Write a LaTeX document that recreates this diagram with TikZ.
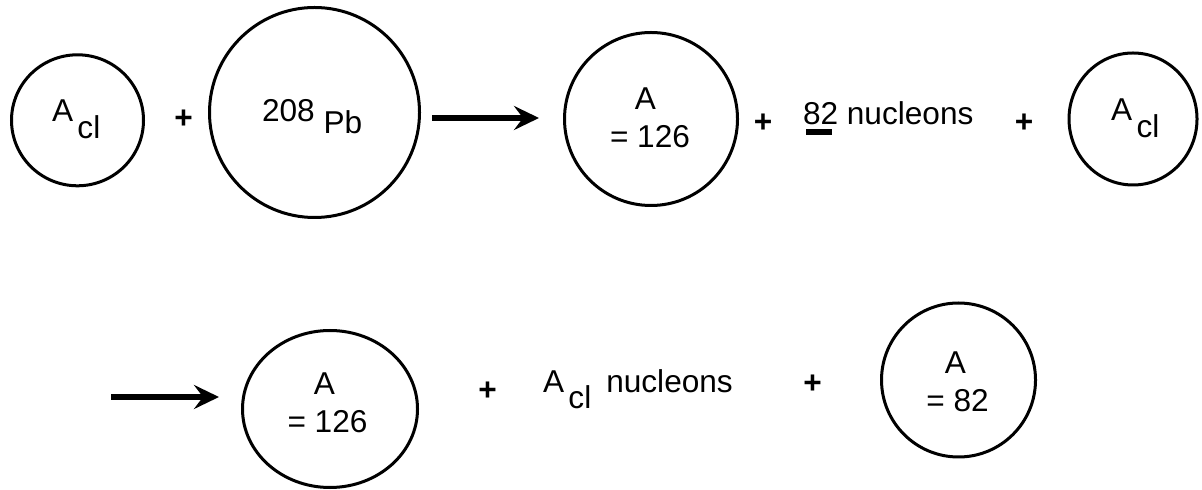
\documentclass[tikz,border=0pt]{standalone}
\usepackage{fontspec}
\setmainfont{Liberation Sans}
\usetikzlibrary{shapes.geometric,arrows.meta}
\begin{document}
\begin{tikzpicture}[x=0.5pt,y=0.5pt,
  every node/.style={font=\fontsize{15.8pt}{19pt}\selectfont, inner sep=0pt, outer sep=0pt},
  nucleus/.style={draw, line width=1.5pt, ellipse, inner sep=0pt},
  txt/.style={anchor=base},
  txtw/.style={anchor=base west},
  plus/.style={anchor=center, font=\fontsize{15.8pt}{19pt}\selectfont\bfseries},
  bigarrow/.style={line width=3.3pt, -{Stealth[length=12.5pt,width=12pt,inset=4.5pt]}}]
\useasboundingbox (0,0) rectangle (1202,-490);
% top row
\node[nucleus, minimum width=66pt, minimum height=65.5pt] (c1) at (77.5,-120.3) {};
\node[txtw] (t1) at (52,-122) {A\hspace{2.2pt}\raisebox{-8.5pt}{cl}};
\node[plus] (p1) at (183.5,-119) {+};
\node[nucleus, minimum width=105pt, minimum height=105pt] (c2) at (314.5,-112.5) {};
\node[txtw] (t2) at (262,-122) {208\hspace{4.4pt}\raisebox{-6pt}{Pb}};
\coordinate (a1s) at (432,-118);
\coordinate (a1e) at (539,-118);
\draw[bigarrow] (a1s) -- (a1e);
\node[nucleus, minimum size=86.5pt] (c3) at (651,-119) {};
\node[txt] (t3a) at (645.5,-110) {A};
\node[txt] (t3b) at (650,-148) {= 126};
\node[plus] (p2) at (763,-123) {+};
\node[txtw] (t82) at (803,-125) {82 nucleons};
\fill (806,-129) rectangle (832,-135);
\node[plus] (p3) at (1024,-123) {+};
\node[nucleus, minimum width=64pt, minimum height=66pt] (c4) at (1133,-119) {};
\node[txtw] (t4) at (1111,-121) {A\hspace{2.2pt}\raisebox{-8.5pt}{cl}};
% bottom row
\coordinate (a2s) at (111,-397);
\coordinate (a2e) at (219,-397);
\draw[bigarrow] (a2s) -- (a2e);
\node[nucleus, minimum width=87.5pt, minimum height=78.5pt] (c5) at (330,-409) {};
\node[txt] (t5a) at (324.5,-395) {A};
\node[txt] (t5b) at (327.5,-433) {= 126};
\node[plus] (p4) at (487.5,-391) {+};
\node[txtw] (tb) at (543,-393) {A\hspace{2.2pt}\raisebox{-8pt}{cl}\hspace{7.5pt}nucleons};
\node[plus] (p5) at (812.5,-384.5) {+};
\node[nucleus, minimum size=77pt] (c6) at (958.5,-380) {};
\node[txt] (t6a) at (955.5,-373.5) {A};
\node[txt] (t6b) at (957.5,-412) {= 82};
\end{tikzpicture}
\end{document}
